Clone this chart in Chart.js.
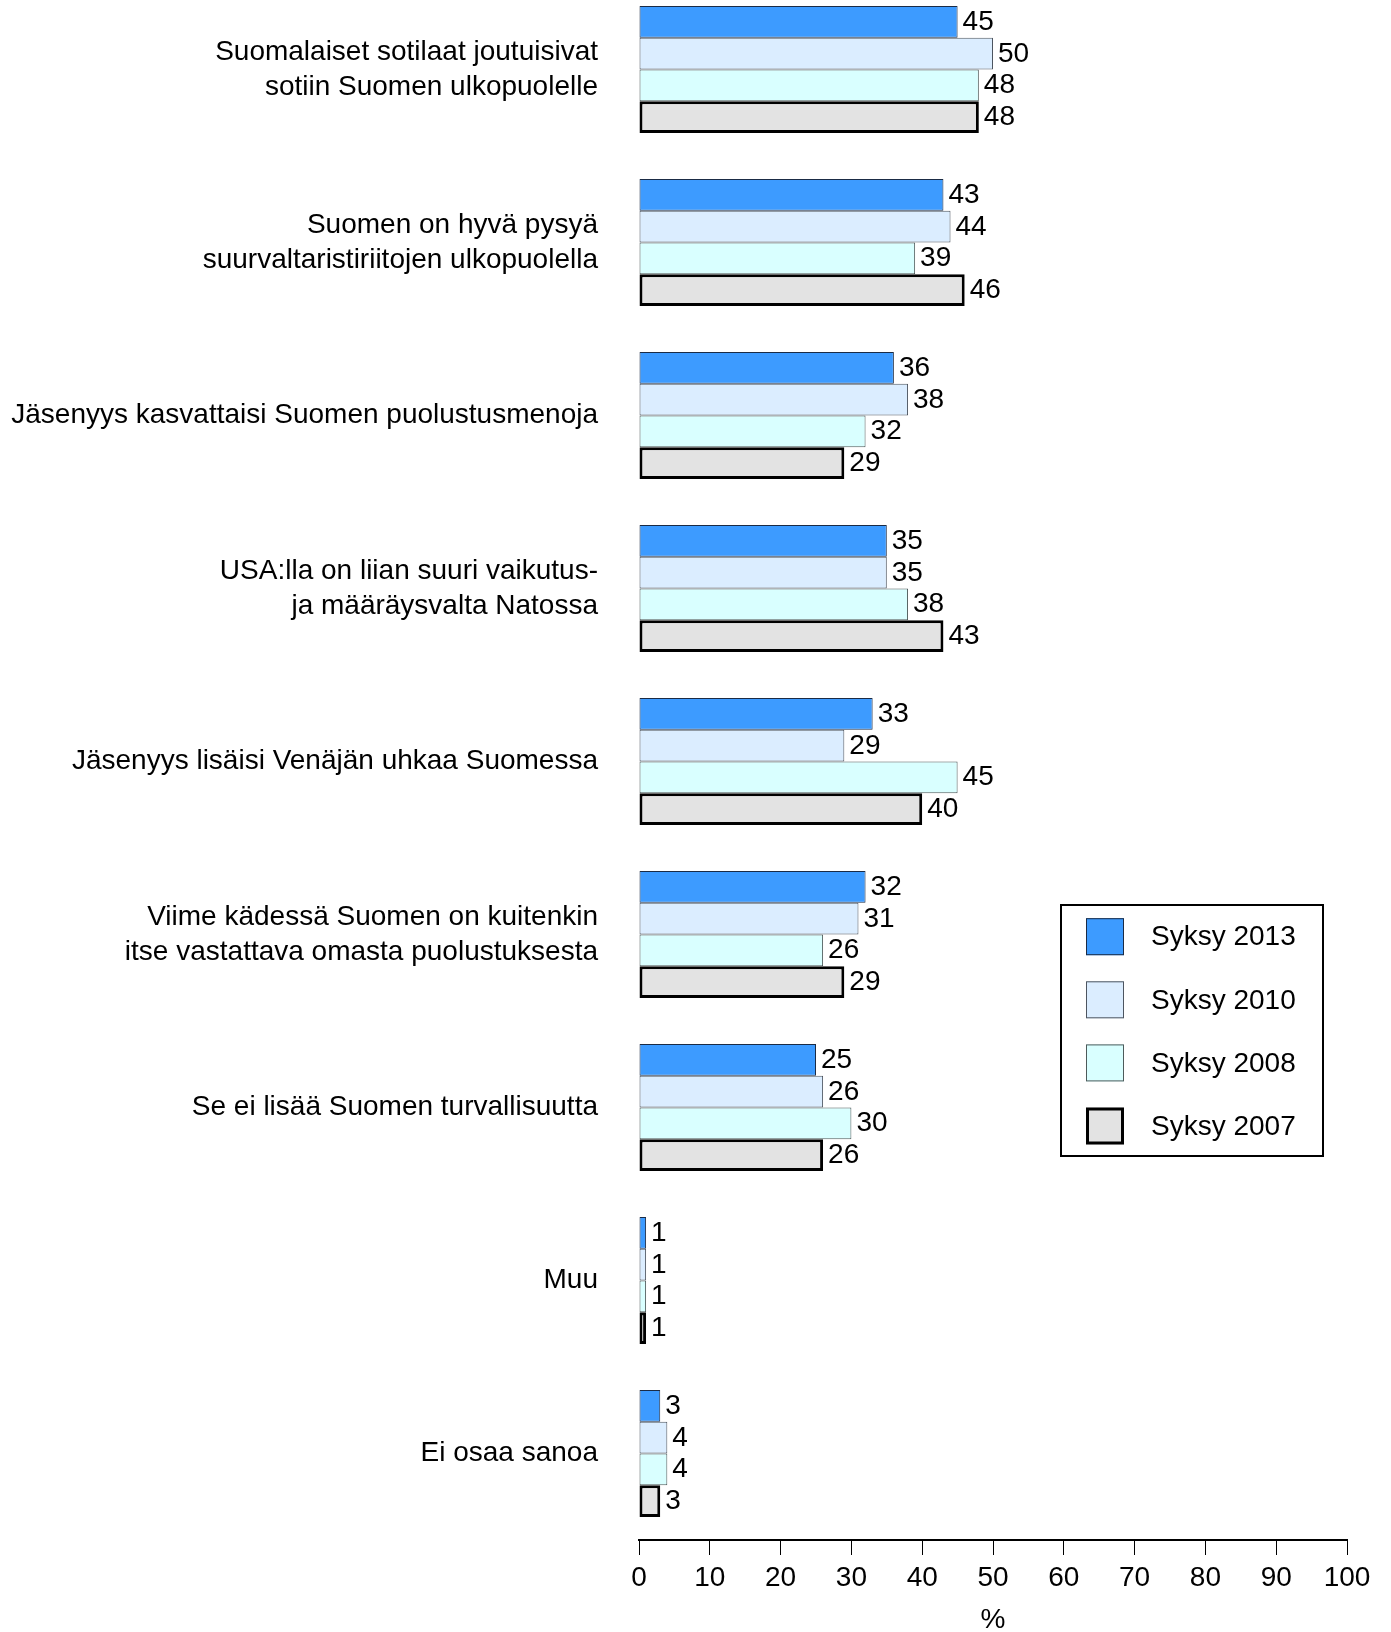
<!DOCTYPE html>
<html><head><meta charset="utf-8">
<script src="https://cdn.jsdelivr.net/npm/chart.js@4.4.1/dist/chart.umd.min.js"></script>
<style>
html,body{margin:0;padding:0;background:#fff;overflow:hidden;width:1391px;height:1632px;}
#wrap{position:absolute;left:0;top:-17px;width:1391px;height:1649px;}
</style></head><body>
<div id="wrap"><canvas id="c" width="1391" height="1649"></canvas></div>
<script>
const categories = [
  ["Suomalaiset sotilaat joutuisivat", "sotiin Suomen ulkopuolelle"],
  ["Suomen on hyvä pysyä", "suurvaltaristiriitojen ulkopuolella"],
  "Jäsenyys kasvattaisi Suomen puolustusmenoja",
  ["USA:lla on liian suuri vaikutus-", "ja määräysvalta Natossa"],
  "Jäsenyys lisäisi Venäjän uhkaa Suomessa",
  ["Viime kädessä Suomen on kuitenkin", "itse vastattava omasta puolustuksesta"],
  "Se ei lisää Suomen turvallisuutta",
  "Muu",
  "Ei osaa sanoa"
];
const seriesNames = ["Syksy 2013", "Syksy 2010", "Syksy 2008", "Syksy 2007"];
const syksy2013 = [45, 43, 36, 35, 33, 32, 25, 1, 3];
const syksy2010 = [50, 44, 38, 35, 29, 31, 26, 1, 4];
const syksy2008 = [48, 39, 32, 38, 45, 26, 30, 1, 4];
const syksy2007 = [48, 46, 29, 43, 40, 29, 26, 1, 3];
const xTickValues = [0, 10, 20, 30, 40, 50, 60, 70, 80, 90, 100];
const axisTitle = "%";

const FONT = '"Liberation Sans", Arial, sans-serif';
const OFF = 17; // canvas is shifted up by this many px
const seriesStyles = [
  { bg: "#3d9bff", border: "#1a2b45", bw: 1 },
  { bg: "#dbedff", border: "#4d5560", bw: 1 },
  { bg: "#d9ffff", border: "#4d5a5a", bw: 1 },
  { bg: "#e3e3e3", border: "#000000", bw: 3 }
];
const seriesData = [syksy2013, syksy2010, syksy2008, syksy2007];

Chart.defaults.font.family = FONT;
Chart.defaults.font.size = 28;
Chart.defaults.color = "#000";

const valueLabels = {
  id: "valueLabels",
  afterDatasetsDraw(chart) {
    const ctx = chart.ctx;
    ctx.save();
    ctx.font = "28px " + FONT;
    ctx.fillStyle = "#000";
    ctx.textAlign = "left";
    ctx.textBaseline = "alphabetic";
    chart.data.datasets.forEach((ds, i) => {
      const meta = chart.getDatasetMeta(i);
      meta.data.forEach((bar, j) => {
        ctx.fillText(String(ds.data[j]), bar.x + 5, bar.y + 8);
      });
    });
    ctx.restore();
  }
};

const boxLegend = {
  id: "boxLegend",
  afterDraw(chart) {
    const ctx = chart.ctx;
    ctx.save();
    ctx.lineWidth = 2;
    ctx.strokeStyle = "#000";
    ctx.strokeRect(1061, 905 + OFF, 262, 251);
    ctx.font = "28px " + FONT;
    ctx.textAlign = "left";
    ctx.textBaseline = "middle";
    chart.data.datasets.forEach((ds, i) => {
      const cy = 936.7 + i * 63.1 + OFF;
      const x = 1086, w = 38, h = 37, y = cy - h / 2;
      ctx.fillStyle = ds.backgroundColor;
      ctx.fillRect(x, y, w, h);
      ctx.lineWidth = ds.borderWidth;
      ctx.strokeStyle = ds.borderColor;
      const b = ds.borderWidth / 2;
      ctx.strokeRect(x + b, y + b, w - 2 * b, h - 2 * b);
      ctx.fillStyle = "#000";
      ctx.fillText(ds.label, 1151, cy + 1);
    });
    ctx.restore();
  }
};

new Chart(document.getElementById("c"), {
  type: "bar",
  data: {
    labels: categories,
    datasets: seriesNames.map((name, i) => ({
      label: name,
      data: seriesData[i],
      backgroundColor: seriesStyles[i].bg,
      borderColor: seriesStyles[i].border,
      borderWidth: seriesStyles[i].bw,
      borderSkipped: false,
      categoryPercentage: 0.735,
      barPercentage: 1.0
    }))
  },
  options: {
    indexAxis: "y",
    responsive: false,
    devicePixelRatio: 1,
    animation: false,
    layout: { padding: { left: 0, right: 44, top: 0, bottom: 0 } },
    plugins: { legend: { display: false }, tooltip: { enabled: false } },
    scales: {
      y: {
        type: "category",
        grid: { display: false, drawTicks: false },
        border: { display: false },
        ticks: { padding: 41, font: { size: 28, lineHeight: 1.265 }, color: "#000" },
        afterFit(scale) { scale.width = 639; scale.paddingTop = 0; scale.paddingBottom = 0; }
      },
      x: {
        type: "linear",
        min: 0, max: 100,
        afterBuildTicks(scale) { scale.ticks = xTickValues.map(v => ({ value: v })); },
        grid: { drawOnChartArea: false, drawTicks: true, tickLength: 15, color: "#000", lineWidth: 1 },
        border: { display: true, color: "#000", width: 2 },
        ticks: { padding: 6, font: { size: 28 }, color: "#000", autoSkip: false, maxRotation: 0 },
        title: { display: true, text: axisTitle, font: { size: 28, lineHeight: 0.86 }, padding: { top: 0, bottom: 0 }, color: "#000" },
        afterFit(scale) { scale.height = 92; scale.paddingLeft = 0; scale.paddingRight = 0; }
      }
    }
  },
  plugins: [valueLabels, boxLegend]
});
</script>
</body></html>
